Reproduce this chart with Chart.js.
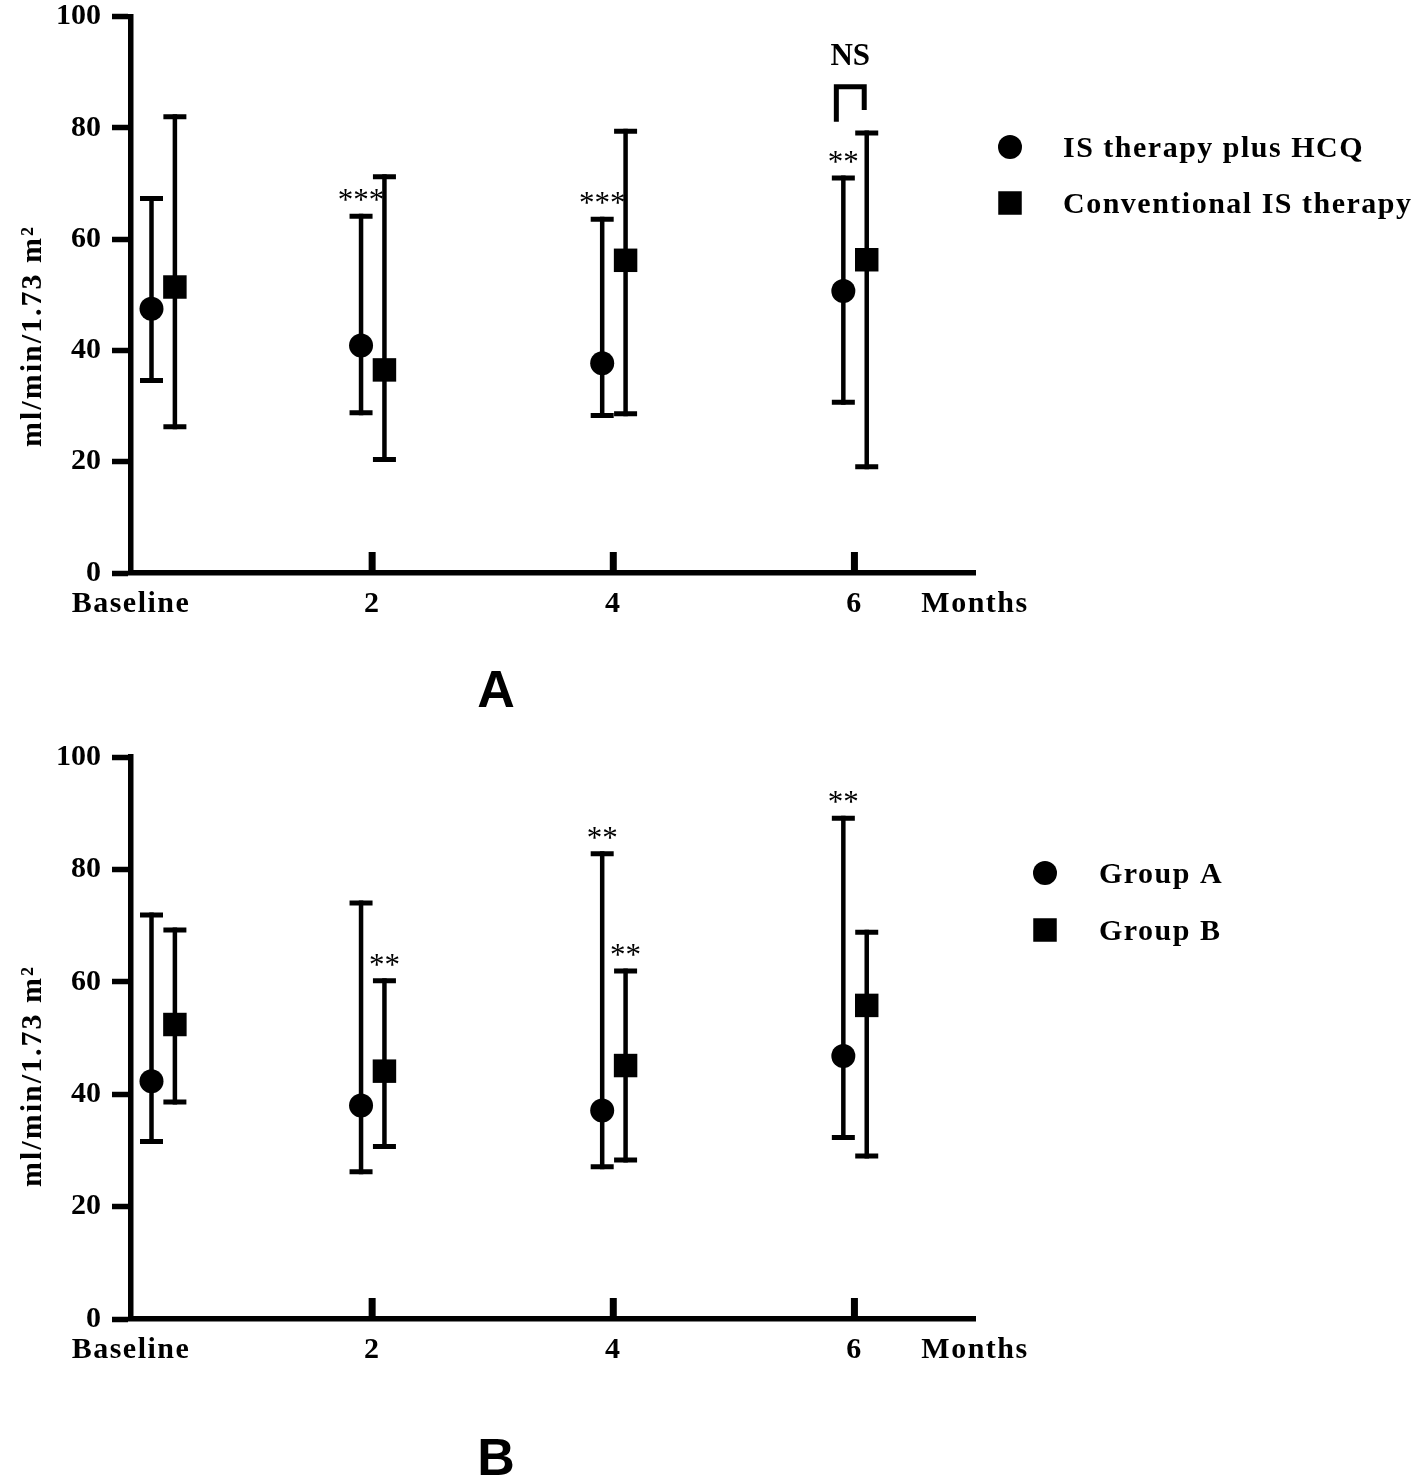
<!DOCTYPE html>
<html><head><meta charset="utf-8">
<script src="https://cdn.jsdelivr.net/npm/chart.js@4.4.1/dist/chart.umd.min.js"></script>
<style>
html,body{margin:0;padding:0;background:#fff;}
body{width:1418px;height:1479px;position:relative;overflow:hidden;}
canvas{position:absolute;left:0;}
#cA{top:0;} #cB{top:740px;}
</style></head><body>
<canvas id="cA" width="1418" height="740"></canvas>
<canvas id="cB" width="1418" height="739"></canvas>
<script>
// ---------- data ----------
const months = [0, 2, 4, 6];
const xTickValues = [0, 2, 4, 6, 7];
const xTickLabels = ['Baseline', '2', '4', '6', 'Months'];
const yTitle = 'ml/min/1.73 m\u00B2';

// Panel A
const panelANames = ['IS therapy plus HCQ', 'Conventional IS therapy'];
const aCircleMean = [47.5, 40.9, 37.7, 50.7];
const aCircleLow  = [34.6, 28.8, 28.3, 30.7];
const aCircleHigh = [67.3, 64.1, 63.6, 71.0];
const aSquareMean = [51.4, 36.5, 56.2, 56.3];
const aSquareLow  = [26.3, 20.4, 28.6, 19.1];
const aSquareHigh = [82.0, 71.2, 79.4, 79.1];
const aStars = [
  { month: 2, series: 0, text: '***' },
  { month: 4, series: 0, text: '***' },
  { month: 6, series: 0, text: '**' }
];
const aBracket = { month: 6, text: 'NS', top: 87.4, leftEnd: 81.1, rightEnd: 83.2 };

// Panel B
const panelBNames = ['Group A', 'Group B'];
const bCircleMean = [42.3, 38.0, 37.1, 46.8];
const bCircleLow  = [31.6, 26.2, 27.1, 32.3];
const bCircleHigh = [71.9, 74.0, 82.8, 89.1];
const bSquareMean = [52.4, 44.1, 45.1, 55.8];
const bSquareLow  = [38.6, 30.7, 28.3, 29.0];
const bSquareHigh = [69.2, 60.2, 61.9, 68.8];
const bStars = [
  { month: 2, series: 1, text: '**' },
  { month: 4, series: 0, text: '**' },
  { month: 4, series: 1, text: '**' },
  { month: 6, series: 0, text: '**' }
];

// ---------- styling / layout ----------
const SERIF = '"Liberation Serif", "Times New Roman", Times, serif';
const SANS = '"Liberation Sans", Arial, Helvetica, sans-serif';
const DODGE = 0.097;
function groupCenter(m) { return m === 0 ? 0.267 : m + 0.005; }
function xPos(m, s) { return groupCenter(m) + (s === 0 ? -DODGE : DODGE); }

const panelPlugin = {
  id: 'panelDeco',
  beforeDraw(chart) {
    const xs = chart.scales.x;
    if (!xs._lsPatched) {
      const orig = xs.drawLabels;
      xs.drawLabels = function (a) {
        const c = this.ctx; c.save(); c.letterSpacing = '1.5px'; orig.call(this, a); c.restore();
      };
      xs._lsPatched = true;
    }
  },
  beforeDatasetsDraw(chart) {
    const ctx = chart.ctx, ys = chart.scales.y;
    ctx.save();
    ctx.strokeStyle = '#000';
    ctx.lineCap = 'butt';
    chart.data.datasets.forEach((ds, i) => {
      const meta = chart.getDatasetMeta(i);
      meta.data.forEach((el, j) => {
        const yh = ys.getPixelForValue(ds.high[j]);
        const yl = ys.getPixelForValue(ds.low[j]);
        ctx.lineWidth = 4.5;
        ctx.beginPath(); ctx.moveTo(el.x, yh - 2.5); ctx.lineTo(el.x, yl + 2.5); ctx.stroke();
        ctx.lineWidth = 5;
        ctx.beginPath();
        ctx.moveTo(el.x - 11.5, yh); ctx.lineTo(el.x + 11.5, yh);
        ctx.moveTo(el.x - 11.5, yl); ctx.lineTo(el.x + 11.5, yl);
        ctx.stroke();
      });
    });
    ctx.restore();
  },
  afterDraw(chart, args, o) {
    const ctx = chart.ctx, xs = chart.scales.x, ys = chart.scales.y;
    const ca = chart.chartArea;
    ctx.save();
    ctx.fillStyle = '#000'; ctx.strokeStyle = '#000';
    // inward x ticks
    ctx.lineWidth = 7;
    [2, 4, 6].forEach(v => {
      const px = xs.getPixelForValue(v);
      ctx.beginPath(); ctx.moveTo(px, ca.bottom); ctx.lineTo(px, ca.bottom - 21); ctx.stroke();
    });
    // y title
    ctx.save();
    ctx.translate(41, o.titleY);
    ctx.rotate(-Math.PI / 2);
    ctx.font = 'bold 30px ' + SERIF;
    ctx.letterSpacing = '2px';
    ctx.textAlign = 'center'; ctx.textBaseline = 'alphabetic';
    ctx.fillText(yTitle, 0, 0);
    ctx.restore();
    // stars
    ctx.font = '31px ' + SERIF;
    ctx.textAlign = 'center'; ctx.textBaseline = 'alphabetic';
    ctx.letterSpacing = '0px';
    o.stars.forEach(s => {
      const ds = chart.data.datasets[s.series];
      const j = months.indexOf(s.month);
      const el = chart.getDatasetMeta(s.series).data[j];
      const yh = ys.getPixelForValue(ds.high[j]);
      ctx.fillText(s.text, el.x, yh - 6);
    });
    // bracket
    if (o.bracket) {
      const b = o.bracket;
      const j = months.indexOf(b.month);
      const x1 = chart.getDatasetMeta(0).data[j].x - 7;
      const x2 = chart.getDatasetMeta(1).data[j].x - 2.5;
      const yt = ys.getPixelForValue(b.top);
      ctx.lineWidth = 5; ctx.lineJoin = 'miter';
      ctx.beginPath();
      ctx.moveTo(x1, ys.getPixelForValue(b.leftEnd));
      ctx.lineTo(x1, yt); ctx.lineTo(x2, yt);
      ctx.lineTo(x2, ys.getPixelForValue(b.rightEnd));
      ctx.stroke();
      ctx.font = 'bold 31px ' + SERIF;
      ctx.letterSpacing = '0px';
      ctx.fillText(b.text, (x1 + x2) / 2, yt - 22);
    }
    // legend
    ctx.font = 'bold 30px ' + SERIF;
    ctx.letterSpacing = '1.5px';
    ctx.textAlign = 'left'; ctx.textBaseline = 'middle';
    const L = o.legend;
    chart.data.datasets.forEach((ds, i) => {
      const y = L.y[i];
      if (i === 0) { ctx.beginPath(); ctx.arc(L.x, y, 12, 0, Math.PI * 2); ctx.fill(); }
      else { ctx.fillRect(L.x - 11.75, y - 11.75, 23.5, 23.5); }
      ctx.fillText(ds.label, L.textX, y + 2);
    });
    // panel letter
    ctx.font = 'bold 52px ' + SANS;
    ctx.letterSpacing = '0px';
    ctx.textAlign = 'center'; ctx.textBaseline = 'alphabetic';
    ctx.fillText(o.letter, 496, o.letterY);
    ctx.restore();
  }
};

function makePanel(id, H, top, bottom, names, c, s, deco) {
  const mk = (mean, lo, hi, si) => mean.map((v, j) => ({ x: xPos(months[j], si), y: v }));
  return new Chart(document.getElementById(id), {
    type: 'scatter',
    data: {
      datasets: [
        { label: names[0], data: mk(c[0], c[1], c[2], 0), low: c[1], high: c[2],
          pointStyle: 'circle', pointRadius: 12, pointHoverRadius: 12,
          backgroundColor: '#000', borderWidth: 0, showLine: false, clip: false },
        { label: names[1], data: mk(s[0], s[1], s[2], 1), low: s[1], high: s[2],
          pointStyle: 'rect', pointRadius: 16.6, pointHoverRadius: 16.6,
          backgroundColor: '#000', borderWidth: 0, showLine: false, clip: false }
      ]
    },
    options: {
      responsive: false, animation: false, devicePixelRatio: 1, events: [],
      layout: { padding: { top: top, right: 1418 - 975, left: 0, bottom: 0 } },
      plugins: { legend: { display: false }, tooltip: { enabled: false }, panelDeco: deco },
      scales: {
        x: {
          type: 'linear', min: 0, max: 7,
          afterFit: sc => { sc.height = H - bottom; sc.paddingLeft = 0; sc.paddingRight = 0; },
          afterBuildTicks: sc => { sc.ticks = xTickValues.map(v => ({ value: v })); },
          ticks: {
            autoSkip: false, maxRotation: 0, padding: 13, color: '#000',
            font: { family: SERIF, size: 30, weight: 'bold' },
            callback: v => { const k = xTickValues.indexOf(v); return k >= 0 ? xTickLabels[k] : ''; }
          },
          grid: { display: true, drawOnChartArea: false, drawTicks: false },
          border: { display: true, color: '#000', width: 5.5 }
        },
        y: {
          type: 'linear', min: 0, max: 100,
          afterFit: sc => { sc.width = 131; sc.paddingTop = 0; sc.paddingBottom = 0; },
          ticks: { stepSize: 20, padding: 11, color: '#000',
            font: { family: SERIF, size: 30, weight: 'bold' } },
          grid: { display: true, drawOnChartArea: false, drawTicks: true, tickLength: 19,
            tickWidth: 5.5, tickColor: '#000', color: '#000' },
          border: { display: true, color: '#000', width: 5.5 }
        }
      }
    },
    plugins: [panelPlugin]
  });
}

makePanel('cA', 740, 12, 573, panelANames,
  [aCircleMean, aCircleLow, aCircleHigh], [aSquareMean, aSquareLow, aSquareHigh],
  { stars: aStars, bracket: aBracket, titleY: 336,
    legend: { x: 1010, y: [147, 203], textX: 1063 }, letter: 'A', letterY: 707 });

makePanel('cB', 739, 17, 579, panelBNames,
  [bCircleMean, bCircleLow, bCircleHigh], [bSquareMean, bSquareLow, bSquareHigh],
  { stars: bStars, bracket: null, titleY: 336,
    legend: { x: 1045, y: [133, 190], textX: 1099 }, letter: 'B', letterY: 735 });
</script>
</body></html>
